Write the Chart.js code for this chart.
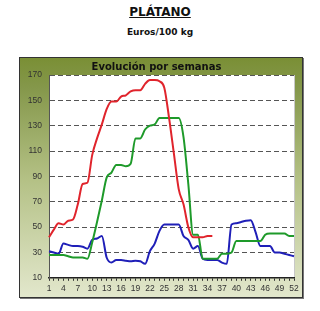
<!DOCTYPE html>
<html>
<head>
<meta charset="utf-8">
<script src="https://cdn.jsdelivr.net/npm/chart.js@4"></script>
<style>
    body { margin: 0; width: 320px; height: 311px; background: #fff; font-family: "DejaVu Sans", Verdana, sans-serif; position: relative; overflow: hidden; }
    #title { position: absolute; left: 0; top: 5px; width: 320px; text-align: center; font-size: 12px; font-weight: bold; text-decoration: underline; color: #111; }
    #subtitle { position: absolute; left: 0; top: 27px; width: 320px; text-align: center; font-size: 9px; font-weight: bold; color: #111; }
    #frame { position: absolute; left: 19px; top: 57px; width: 282px; height: 239px; border: 1px solid #333; box-shadow: 1px 1px 0 #777;
             background: linear-gradient(to bottom, #7a8f35 0%, #84974a 12%, #b3c084 50%, #e2e7cc 100%); }
    #chart-wrap { position: absolute; left: 19px; top: 57px; width: 284px; height: 241px; }
</style>
</head>
<body>
<div id="title">PLÁTANO</div>
<div id="subtitle">Euros/100 kg</div>
<div id="frame"></div>
<div id="chart-wrap"><canvas id="weeks-chart" width="284" height="241"></canvas></div>

<script>
let weeks = ['1','2','3','4','5','6','7','8','9','10','11','12','13','14','15','16','17','18','19','20',
             '21','22','23','24','25','26','27','28','29','30','31','32','33','34','35','36','37','38','39','40',
             '41','42','43','44','45','46','47','48','49','50','51','52'];

// valores semanales (euros/100 kg)
let redSeries = [42, 48, 53, 52, 55, 56, 68, 84, 85, 107, 120, 131, 143, 149, 149, 153, 154, 157, 158, 158,
                 163, 166, 166, 165, 160, 136, 108, 80, 68, 50, 42, 42, 42, 43, 43];
let greenSeries = [28, 28, 28, 28, 27, 26, 26, 26, 25, 38, 54, 71, 89, 93, 99, 99, 98, 100, 120, 120,
                   127, 130, 131, 136, 136, 136, 136, 136, 121, 84, 44, 44, 25, 25, 25, 25, 29, 29, 30, 39,
                   39, 39, 39, 39, 39, 44, 45, 45, 45, 45, 43, 43];
let blueSeries = [31, 30, 29, 37, 36, 35, 35, 34.5, 33, 40, 41, 43, 26, 22, 24, 24, 23.5, 23, 23.5, 23,
                  21, 31, 37, 47, 52, 52, 52, 52, 43, 40, 33, 35, 25, 24, 24, 24, 22, 21, 52, 53,
                  54, 55, 55.5, 46, 35, 35, 35, 30, 30, 29, 28, 27];

let yTicks = { min: 10, max: 170, step: 20 };

const plotBackground = {
    id: 'plotBackground',
    beforeDraw( chart )
    {
        const ctx = chart.ctx;
        const a = chart.chartArea;
        ctx.save();
        ctx.fillStyle = '#ffffff';
        ctx.fillRect( a.left, a.top, a.right - a.left, a.bottom - a.top );
        ctx.strokeStyle = '#c8c8c8';
        ctx.lineWidth = 1;
        ctx.beginPath();
        ctx.moveTo( a.right + 0.5, a.top );
        ctx.lineTo( a.right + 0.5, a.bottom );
        ctx.stroke();
        ctx.restore();
    }
};

function lineDataset( label, data, color )
{
    return {
        label: label,
        data: data,
        borderColor: color,
        backgroundColor: color,
        borderWidth: 2,
        pointRadius: 0,
        cubicInterpolationMode: 'monotone',
        fill: false
    }
}

function displayWeeksChart()
{
    const ctx = document.getElementById('weeks-chart').getContext('2d');
    new Chart( ctx, {
        type: 'line',
        data: {
            labels: weeks,
            datasets: [
                lineDataset( 'Rojo', redSeries, '#e0242c' ),
                lineDataset( 'Verde', greenSeries, '#1e9a2a' ),
                lineDataset( 'Azul', blueSeries, '#1f1fb8' )
            ]
        },
        options: {
            responsive: false,
            animation: false,
            layout: { padding: { left: 0, right: 9, top: 0, bottom: 1 } },
            plugins: {
                legend: { display: false },
                tooltip: { enabled: false },
                title: {
                    display: true,
                    text: 'Evolución por semanas',
                    color: '#111',
                    font: { family: 'DejaVu Sans', size: 10, weight: 'bold' },
                    padding: { top: 4, bottom: 2 }
                }
            },
            scales: {
                x: {
                    offset: false,
                    grid: { drawOnChartArea: false, drawTicks: true, tickLength: 3, color: '#333' },
                    border: { color: '#222', width: 1.5 },
                    ticks: {
                        autoSkip: false,
                        maxRotation: 0,
                        padding: 3,
                        color: '#333',
                        font: { family: 'Liberation Sans', size: 8.5 },
                        callback: function( value, index ) { return index % 3 === 0 ? weeks[index] : ''; }
                    }
                },
                y: {
                    min: yTicks.min,
                    max: yTicks.max,
                    afterFit: function( scale ) { scale.width = 30; },
                    grid: { color: '#555', drawTicks: false },
                    border: { dash: [5, 3], color: '#555', width: 1 },
                    ticks: {
                        stepSize: yTicks.step,
                        padding: 7,
                        color: '#333',
                        font: { family: 'Liberation Sans', size: 8.5 }
                    }
                }
            }
        },
        plugins: [plotBackground]
    });
}

document.addEventListener('DOMContentLoaded', function(){
    displayWeeksChart();
});
</script>
</body>
</html>
